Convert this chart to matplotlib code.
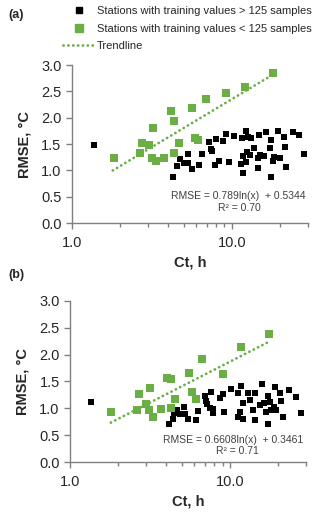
import matplotlib.pyplot as plt
from matplotlib.lines import Line2D
from matplotlib.ticker import FixedLocator, NullFormatter
import numpy as np

plt.rcParams['font.family'] = ['Liberation Sans', 'DejaVu Sans']

# ---- data ----
# panel (a)
a_green_x = [1.83, 2.67, 2.76, 3.03, 3.23, 3.16, 3.36, 3.77, 4.15, 4.37, 4.37, 4.70,
             5.67, 5.89, 6.15, 6.91, 9.17, 12.05, 18.2]
a_green_y = [1.24, 1.33, 1.52, 1.49, 1.81, 1.23, 1.18, 1.23, 2.13, 1.94, 1.33, 1.52,
             2.19, 1.62, 1.58, 2.35, 2.46, 2.58, 2.84]
a_black_x = [1.37, 4.31, 4.52, 4.75, 5.05, 5.30, 5.35, 5.67, 6.24, 6.49, 7.25, 7.53,
             7.45, 7.98, 7.80, 8.34, 8.87, 9.22, 9.58, 10.35, 11.4, 11.6, 11.8, 11.8,
             12.2, 12.2, 12.4, 12.6, 13.2, 13.0, 13.7, 14.5, 14.5, 14.9, 15.0, 15.9,
             16.4, 17.3, 17.6, 17.6, 18.2, 18.5, 19.4, 19.9, 21.1, 21.5, 21.8, 24.0,
             26.5, 28.4]
a_black_y = [1.48, 0.88, 1.09, 1.21, 1.14, 1.31, 1.14, 1.02, 1.11, 1.31, 1.54, 1.37,
             1.41, 1.59, 1.11, 1.18, 1.56, 1.69, 1.16, 1.66, 1.12, 1.61, 1.28, 0.95,
             1.75, 1.15, 1.34, 1.63, 1.61, 1.29, 1.43, 1.24, 1.04, 1.67, 1.30, 1.28,
             1.72, 1.42, 1.57, 0.88, 1.18, 1.26, 1.74, 1.23, 1.63, 1.45, 1.06, 1.72,
             1.67, 1.31]
a_fit = (0.789, 0.5344)
a_eq = 'RMSE = 0.789ln(x)  + 0.5344'
a_r2 = 'R² = 0.70'

# panel (b)
b_green_x = [1.80, 2.61, 2.70, 2.99, 3.18, 3.13, 3.32, 3.69, 4.06, 4.28, 4.28, 4.55,
             5.55, 5.76, 6.10, 6.74, 9.08, 11.8, 17.7]
b_green_y = [0.93, 0.96, 1.26, 1.08, 1.38, 0.96, 0.84, 0.98, 1.57, 1.54, 1.01, 1.17,
             1.66, 1.31, 1.18, 1.91, 1.64, 2.14, 2.38]
b_black_x = [1.35, 4.18, 4.38, 4.45, 4.64, 4.88, 5.16, 5.23, 5.49, 6.13, 6.30, 7.04,
             7.07, 7.20, 7.50, 7.67, 7.80, 7.90, 8.66, 9.00, 9.20, 10.1, 11.2, 11.3,
             11.5, 11.8, 12.1, 12.0, 12.9, 13.3, 14.0, 14.3, 14.3, 15.4, 15.8, 16.3,
             16.9, 17.3, 17.3, 17.8, 18.0, 18.8, 19.3, 19.5, 20.7, 21.0, 21.6, 23.5,
             25.9, 28.0]
b_black_y = [1.11, 0.70, 0.81, 0.91, 0.96, 0.90, 1.02, 0.90, 0.80, 0.79, 0.95, 1.23,
             1.14, 1.08, 1.01, 1.31, 0.91, 0.98, 1.19, 1.26, 0.93, 1.36, 1.28, 0.84,
             0.93, 1.41, 1.09, 0.80, 1.28, 1.15, 0.96, 1.29, 0.78, 1.06, 1.46, 1.09,
             0.93, 1.23, 0.70, 1.12, 0.96, 1.03, 1.39, 0.96, 1.29, 1.13, 0.84, 1.35,
             1.21, 0.92]
b_fit = (0.6608, 0.3461)
b_eq = 'RMSE = 0.6608ln(x)  + 0.3461'
b_r2 = 'R² = 0.71'

trend_range = (1.8, 17.5)
y_ticks = [0.0, 0.5, 1.0, 1.5, 2.0, 2.5, 3.0]

green = '#6AAE45'
black = '#000000'
axis_col = '#808080'
text_col = '#262626'
dotted = (0, (0.05, 1.7))

fig = plt.figure(figsize=(3.2, 5.23), dpi=100)
fig.patch.set_facecolor('white')


def draw_panel(rect, gx, gy, bx, by, fit, eq, r2, eq_y, r2_y):
    ax = fig.add_axes(rect)
    ax.scatter(bx, by, marker='s', s=22, color=black, linewidths=0, zorder=3)
    ax.scatter(gx, gy, marker='s', s=27, color=green, linewidths=0, zorder=3)
    tx = np.geomspace(trend_range[0], trend_range[1], 60)
    ax.plot(tx, fit[0] * np.log(tx) + fit[1], color=green, lw=2.0,
            linestyle=dotted, dash_capstyle='round', zorder=2)
    ax.set_xscale('log')
    ax.set_xlim(1, 30)
    ax.set_ylim(0, 3.0)
    ax.set_yticks(y_ticks)
    ax.set_yticklabels(['%.1f' % v for v in y_ticks])
    ax.xaxis.set_major_locator(FixedLocator([1, 10]))
    ax.set_xticklabels(['1.0', '10.0'])
    ax.xaxis.set_minor_locator(FixedLocator([2, 3, 4, 5, 6, 7, 8, 9, 20, 30]))
    ax.xaxis.set_minor_formatter(NullFormatter())
    for s in ['top', 'right']:
        ax.spines[s].set_visible(False)
    for s in ['left', 'bottom']:
        ax.spines[s].set_color(axis_col)
        ax.spines[s].set_linewidth(1)
    ax.tick_params(axis='both', which='both', direction='out', color=axis_col,
                   labelsize=10.5, labelcolor=text_col)
    ax.tick_params(axis='both', which='major', length=4, width=1)
    ax.tick_params(axis='x', which='minor', length=3, width=1)
    ax.tick_params(axis='x', which='major', pad=5)
    ax.set_xlabel('Ct, h', fontsize=10.5, fontweight='bold', color=text_col, labelpad=4)
    ax.set_ylabel('RMSE, °C', fontsize=10.5, fontweight='bold', color=text_col, labelpad=7)
    ax.text(0.99, eq_y, eq, transform=ax.transAxes, ha='right', va='center',
            fontsize=7.5, color='#404040')
    ax.text(0.71, r2_y, r2, transform=ax.transAxes, ha='center', va='center',
            fontsize=7.5, color='#404040')
    return ax


ax1 = draw_panel([0.225, 0.5736, 0.7375, 0.302], a_green_x, a_green_y,
                 a_black_x, a_black_y, a_fit, a_eq, a_r2, 0.168, 0.098)
ax2 = draw_panel([0.219, 0.1166, 0.7375, 0.308], b_green_x, b_green_y,
                 b_black_x, b_black_y, b_fit, b_eq, b_r2, 0.135, 0.068)

fig.text(0.025, 0.971, '(a)', fontsize=9, fontweight='bold', color=text_col,
         ha='left', va='center')
fig.text(0.025, 0.474, '(b)', fontsize=9, fontweight='bold', color=text_col,
         ha='left', va='center')

handles = [
    Line2D([], [], marker='s', color=black, linestyle='none', markersize=4.8),
    Line2D([], [], marker='s', color=green, linestyle='none', markersize=5.3),
    Line2D([], [], color=green, lw=2.0, linestyle=dotted, dash_capstyle='round'),
]
labels = ['Stations with training values > 125 samples',
          'Stations with training values < 125 samples',
          'Trendline']
fig.legend(handles, labels, loc='upper left', bbox_to_anchor=(0.165, 1.008),
           frameon=False, fontsize=8.0, handlelength=2.9, handletextpad=0.2,
           labelspacing=0.7, labelcolor=text_col)

fig.savefig('out.png', dpi=100, facecolor='white')
